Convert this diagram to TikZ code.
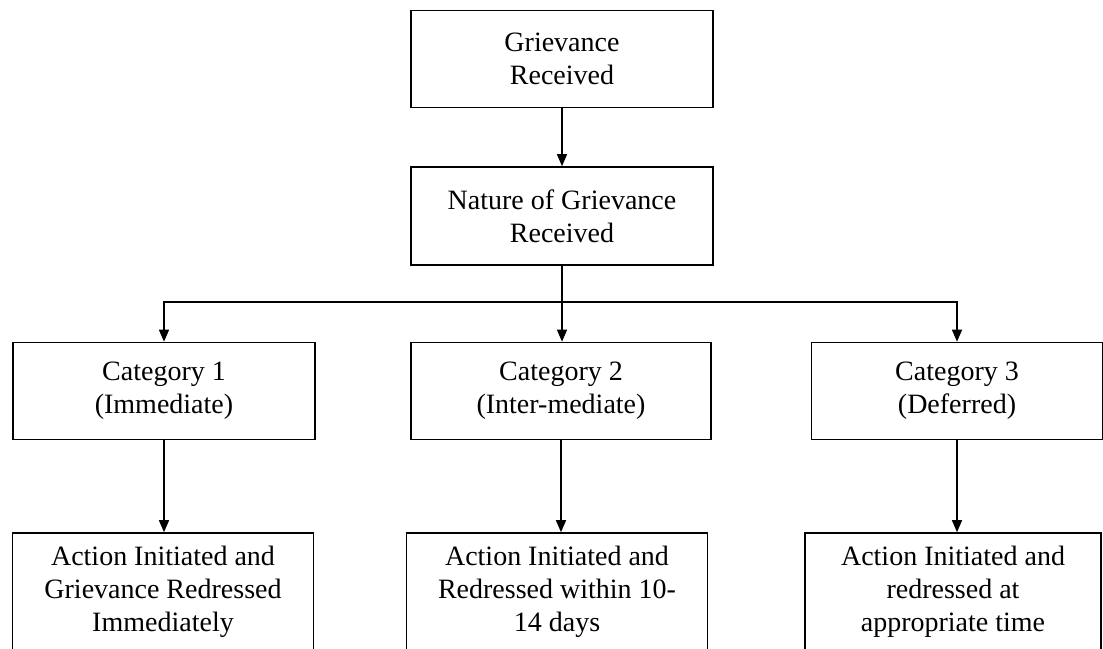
\documentclass[tikz,border=0pt]{standalone}
\usepackage{fontspec}
\setmainfont{Liberation Serif}
\usetikzlibrary{arrows.meta}
\begin{document}
\begin{tikzpicture}[x=0.5pt,y=-0.5pt,
  box/.style={draw,line width=0.8pt,align=center,inner sep=0pt,
    font=\fontsize{14}{16.5}\selectfont,minimum height=48.5pt},
  arr/.style={-{Triangle[length=6pt,width=5pt]},line width=0.7pt}]
  \useasboundingbox (0,0) rectangle (1103,648);
  %%%%%%%%%%%%%Top of the chart%%%%%%%%%%%%%%%%%%%%%%
  \node[box,minimum width=151pt] (recv) at (562,59) {Grievance\\Received};
  \node[box,minimum width=151pt,minimum height=49pt] (nature) at (562,216) {Nature of Grievance\\Received};
  \draw[arr] (recv) -- (nature);

  %%%%%%%%%%%%%The three categories%%%%%%%%%%%%%%%%%%%%%%
  \node[box,minimum width=151pt] (cat1) at (164,391) {Category 1\\(Immediate)};
  \node[box,minimum width=150pt] (cat2) at (561,391) {Category 2\\(Inter-mediate)};
  \node[box,minimum width=145.5pt] (cat3) at (957,391) {Category 3\\(Deferred)};
  \coordinate (split) at (562,302);
  \draw[line width=0.7pt] (nature) -- (split);
  \draw[arr] (split) -| (cat1);
  \draw[arr] (split) -- (split |- cat2.north);
  \draw[arr] (split) -| (cat3);

  %%%%%%%%%%%%%The actions%%%%%%%%%%%%%%%%%%%%%%
  \node[box,minimum width=150.5pt,minimum height=59pt] (act1) at (163,592) {Action Initiated and\\Grievance Redressed\\Immediately};
  \node[box,minimum width=150.5pt,minimum height=59pt] (act2) at (557,592) {Action Initiated and\\Redressed within 10-\\14 days};
  \node[box,minimum width=148pt,minimum height=59pt] (act3) at (953,592) {Action Initiated and\\redressed at\\appropriate time};
  \draw[arr] (cat1) -- (cat1 |- act1.north);
  \draw[arr] (cat2) -- (cat2 |- act2.north);
  \draw[arr] (cat3) -- (cat3 |- act3.north);
\end{tikzpicture}
\end{document}
